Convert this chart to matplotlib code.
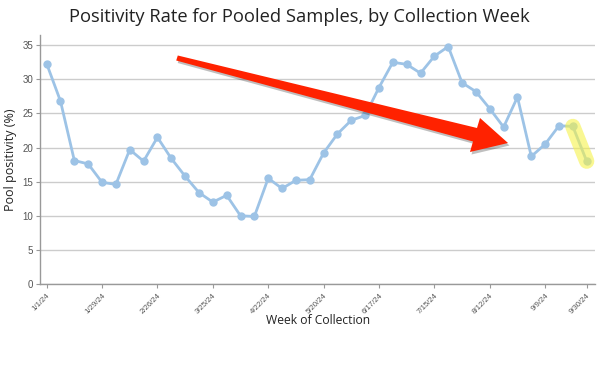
import matplotlib
matplotlib.use("Agg")
import matplotlib.pyplot as plt
from matplotlib.patches import Polygon

weeks = list(range(40))
positivity = [32.3, 26.8, 18.1, 17.6, 14.9, 14.6, 19.7, 18.0, 21.5, 18.4,
              15.8, 13.4, 12.0, 13.0, 10.0, 9.9, 15.5, 14.0, 15.2, 15.3,
              19.2, 22.0, 24.0, 24.7, 28.8, 32.5, 32.2, 30.9, 33.4, 34.8,
              29.5, 28.2, 25.7, 23.0, 27.4, 18.7, 20.5, 23.2, 23.1, 18.0]
tick_idx = [0, 4, 8, 12, 16, 20, 24, 28, 32, 36, 39]
tick_labels = ["1/1/24", "1/29/24", "2/26/24", "3/25/24", "4/22/24", "5/20/24",
               "6/17/24", "7/15/24", "8/12/24", "9/9/24", "9/30/24"]
y_ticks = [0, 5, 10, 15, 20, 25, 30, 35]

W, H = 600, 366
fig = plt.figure(figsize=(6, 3.66), dpi=100)
ax = fig.add_axes([40 / W, 1 - 284 / H, 555 / W, 249 / H])

ax.set_ylim(0, 36.5)
ax.set_xlim(-0.48, 39.6)
ax.set_yticks(y_ticks)
ax.grid(axis="y", color="#cccccc", linewidth=1)
ax.set_axisbelow(True)
for s in ["top", "right"]:
    ax.spines[s].set_visible(False)
for s in ["left", "bottom"]:
    ax.spines[s].set_color("#999999")
    ax.spines[s].set_linewidth(1)

line_color = "#9dc3e6"
# highlight
ax.plot(weeks[38:40], positivity[38:40], color="#f5f24a", alpha=0.6,
        linewidth=11, solid_capstyle="round", zorder=4)
ax.plot(weeks, positivity, color=line_color, linewidth=2, marker="o",
        markersize=5, zorder=3)

ax.set_xticks(tick_idx)
ax.set_xticklabels(tick_labels, rotation=45, ha="right", rotation_mode="anchor",
                   fontsize=5.6, family="Liberation Sans", color="#555555")
ax.tick_params(axis="x", length=3, color="#999999", pad=3)
ax.tick_params(axis="y", length=3, color="#999999", labelsize=7, labelcolor="#555555", pad=2)
for t in ax.get_yticklabels():
    t.set_family("Liberation Sans")

ax.set_ylabel("Pool positivity (%)", family="Open Sans", fontsize=9, color="#222222")
ax.yaxis.set_label_coords((17 - 40) / 555, 0.5)
fig.text(318 / W, 1 - 320 / H, "Week of Collection", family="Open Sans", fontsize=8.7,
         color="#222222", ha="center", va="center")
fig.text(299 / W, 1 - 17 / H, "Positivity Rate for Pooled Samples, by Collection Week",
         family="Open Sans", fontsize=13.2, color="#222222", ha="center", va="center")

# red arrow annotation (figure pixel coordinates)
pts = [(177.8, 55.5), (477, 128), (480, 118), (508, 143), (470, 152), (473, 141.5), (176.2, 60.5)]
def to_fig(p, dx=0, dy=0):
    return ((p[0] + dx) / W, 1 - (p[1] + dy) / H)
shadow = Polygon([to_fig(p, 1.5, 2.5) for p in pts], closed=True, transform=fig.transFigure,
                 facecolor="#000000", alpha=0.25, edgecolor="none", zorder=5)
arrow = Polygon([to_fig(p) for p in pts], closed=True, transform=fig.transFigure,
                facecolor="#ff2200", edgecolor="none", zorder=6)
fig.patches.append(shadow)
fig.patches.append(arrow)

fig.savefig("out.png", dpi=100)
